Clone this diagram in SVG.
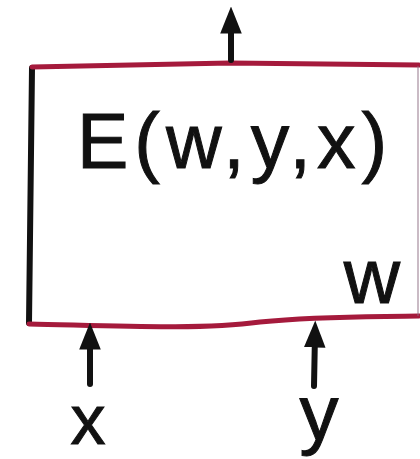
<svg xmlns="http://www.w3.org/2000/svg" width="420" height="459" viewBox="0 0 420 459">
<style>
.lbl{font-family:"Liberation Sans","DejaVu Sans",sans-serif;fill:#111;stroke:#111;stroke-width:1;text-anchor:middle;}
.ink{stroke:#111;stroke-width:6;fill:none;stroke-linecap:round;}
.red{stroke:#a51a3c;stroke-width:5;fill:none;stroke-linecap:round;}
</style>
<defs>
<marker id="ah" viewBox="0 0 10 10" refX="5" refY="5" markerWidth="4.5" markerHeight="4.5" orient="auto-start-reverse">
<path d="M0,1 L10,5 L0,9 z" fill="#111"/>
</marker>
</defs>
<rect width="420" height="459" fill="#fff"/>
<g id="energy">
<path class="ink" d="M32,68 L29,323"/>
<path class="red" d="M32,67 L230,63 L419,65"/>
<path class="red" d="M29,324 C120,326 200,330 260,322 C320,316 370,317 419,316"/>
<path d="M418,66 L418,316" stroke="#8a6a80" stroke-width="1.5" opacity="0.6"/>
<text class="lbl" x="235" y="168" font-size="77" letter-spacing="6">E(w,y,x)</text>
<text class="lbl" x="372" y="303" font-size="78">w</text>
</g>
<g id="x">
<text class="lbl" x="88" y="444" font-size="70">x</text>
</g>
<g id="y">
<text class="lbl" x="319" y="440" font-size="78">y</text>
</g>
<g id="connectors">
<path class="ink" d="M231,60 L231,20" marker-end="url(#ah)"/>
<path class="ink" d="M90,384 L90,336" marker-end="url(#ah)"/>
<path class="ink" d="M314,386 L315,334" marker-end="url(#ah)"/>
</g>
</svg>
